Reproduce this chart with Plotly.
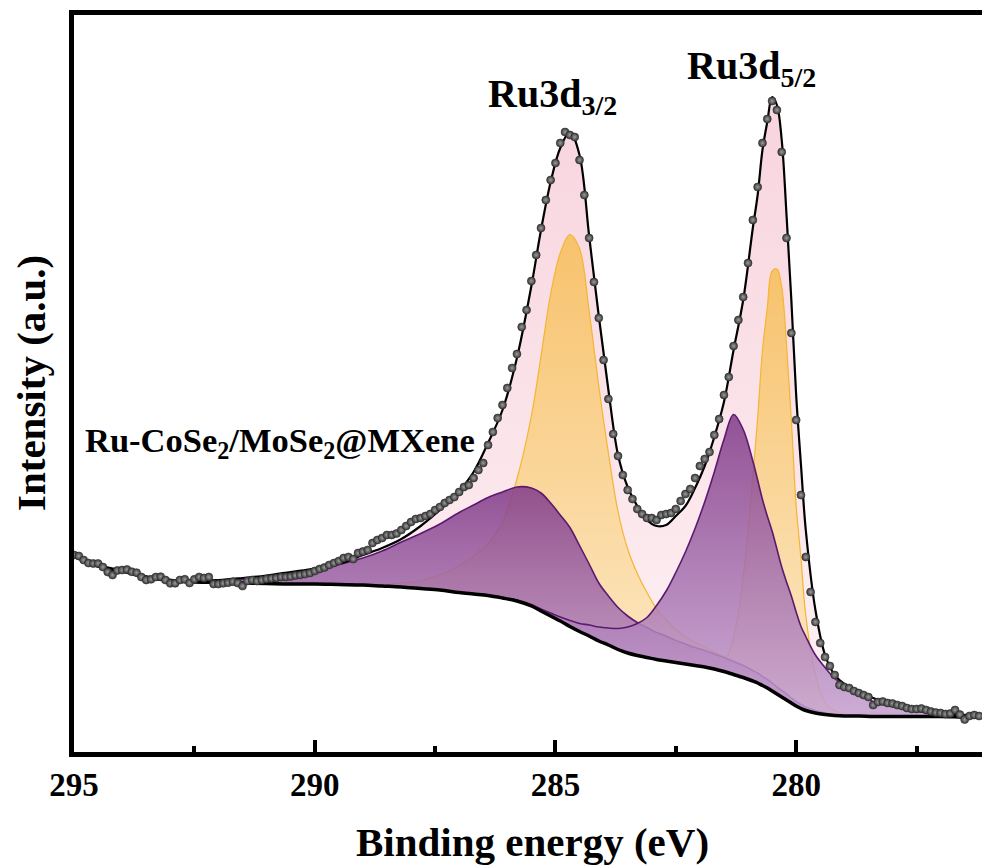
import numpy as np
import plotly.graph_objects as go

# ---- Fit grid: binding energy (eV) ----
E_fit = [295.0, 294.5, 294.0, 293.5, 293.0, 292.5, 292.0, 291.5, 291.0, 290.5,
         290.0, 289.5, 289.0, 288.6, 288.2, 287.8, 287.4, 287.0, 286.7, 286.4,
         286.1, 285.8, 285.5, 285.3, 285.1, 284.9, 284.7, 284.5, 284.3, 284.1,
         283.9, 283.7, 283.5, 283.3, 283.1, 282.9, 282.7, 282.5, 282.3, 282.1,
         281.9, 281.7, 281.5, 281.3, 281.1, 280.9, 280.8, 280.7, 280.6, 280.5,
         280.4, 280.3, 280.2, 280.1, 280.0, 279.9, 279.8, 279.6, 279.4, 279.2,
         279.0, 278.7, 278.4, 278.0, 277.5, 277.0, 276.5, 276.2]

# Shirley-type background (a.u.)
background = [196, 186, 181, 175, 171.5, 170, 169.5, 169, 168.5, 168,
              168, 167.5, 167, 166, 165, 163.5, 162, 159.5, 158, 156.5,
              154, 151, 146, 141, 136, 131, 125.5, 120.5, 116, 111,
              107, 102.5, 99, 96.5, 94.5, 92.5, 91, 89.5, 88, 86.5,
              85, 83, 80.5, 77.5, 74.5, 71, 69, 66.5, 64, 61,
              58, 55, 52, 49, 46, 43.5, 41.5, 39, 37.5, 36.5,
              36, 36, 35.5, 35.5, 35.5, 35.5, 35, 35]

# Total fit envelope (a.u.)
envelope = [196, 186, 181, 175, 172, 171.5, 172, 174, 176.5, 180,
            183.5, 188, 197, 204, 213, 226, 242, 261, 280, 309,
            342, 394, 466, 522, 570, 604, 620, 597, 516, 436,
            362, 297, 265, 246, 232, 226, 227, 236, 246, 264,
            286, 315, 350, 402, 452, 524, 557, 602, 630, 655,
            647, 612, 537, 452, 357, 287, 222, 142, 97, 77,
            68, 60, 54, 48, 41, 38.5, 37, 36]

# Component heights above the background (a.u.)
ru_3d32_main = [0, 0, 0, 0, 0, 0, 0, 0, 0, 0,
                0, 0, 0.5, 1, 4, 8, 15, 27, 38, 52,
                76, 122, 190, 255, 322, 368, 392, 383, 325, 255,
                192, 138, 104, 82, 65, 51, 41, 33, 27, 23,
                20, 17, 15, 13, 12, 10, 9, 8, 7, 6,
                6, 5, 5, 4, 4, 3, 3, 2, 1, 1,
                0, 0, 0, 0, 0, 0, 0, 0]

ru_3d52_main = [0, 0, 0, 0, 0, 0, 0, 0, 0, 0,
                0, 0, 0, 0, 0, 0, 0, 0, 0, 0,
                0, 0, 0, 0, 0, 0, 0, 0, 0, 0,
                0, 0, 0, 0, 0, 0, 0, 0, 0, 0,
                1, 3, 9, 38, 100, 205, 265, 335, 380, 420,
                425, 410, 355, 283, 200, 150, 95, 38, 12, 5,
                2, 1, 0, 0, 0, 0, 0, 0]

ru_3d32_sat = [0, 0, 0, 0.5, 1, 1.5, 2.5, 4, 6, 9,
               13, 20, 27, 35, 45, 55, 66, 80, 89, 98,
               106, 114, 118, 118, 113, 106, 99, 86, 72, 58,
               49, 42, 37, 33, 30, 27, 25, 22, 20, 18,
               16.5, 15, 14, 13, 12, 10.5, 10, 9, 8.5, 8,
               7, 6.5, 6, 5, 4.5, 4, 3.5, 2.5, 1.5, 1,
               0.5, 0, 0, 0, 0, 0, 0, 0]

ru_3d52_sat = [0, 0, 0, 0, 0, 0, 0, 0, 0, 0,
               0, 0, 0, 0, 0, 0, 0, 0, 0, 0.5,
               0.5, 1, 1.5, 2, 3, 4, 6, 8, 11, 14,
               17, 21, 26, 32, 40, 54, 70, 90, 112, 137,
               165, 197, 232, 260, 248, 220, 203, 186, 172, 160,
               145, 130, 118, 107, 94, 82, 74, 58, 47, 37,
               30, 21, 15, 10, 6, 4, 2.5, 2]

# ---- Measured spectrum, 0.1 eV steps from 295.0 to 276.2 eV ----
E_data = np.round(np.arange(295.0, 276.15, -0.1), 1)
counts = [197, 196, 192, 189, 188.5, 188.5, 185, 180, 177, 181.5,
          182, 182.5, 180.3, 179.3, 175, 172, 172.7, 175, 175.3, 172,
          168.7, 168.7, 172, 172.7, 169, 172.7, 175, 174, 175, 168,
          168, 168.7, 169.3, 170.3, 169, 166, 171, 172, 171, 172,
          173, 173.5, 174, 175, 175, 175.5, 176.5, 177, 178, 179,
          181, 183, 184.5, 187, 189, 191, 194, 195, 193, 199,
          200.5, 202, 209, 212, 214, 217, 217, 218.5, 222, 226,
          230, 233, 234, 236, 238, 242, 245, 249, 252, 255,
          260, 265, 267, 274, 282, 289, 307, 320, 334, 347,
          364, 384, 398, 425, 442, 471, 497, 524, 552, 572,
          589, 609, 620, 617, 615, 592, 557, 514, 470, 434,
          392, 353, 318, 296, 277, 262, 253, 243, 238, 234,
          234, 232, 237, 238, 239, 243, 251, 258, 263, 274,
          286, 293, 300, 317, 333, 357, 375, 406, 432, 455,
          489, 532, 565, 609, 633, 651, 642, 600, 514, 419,
          332, 257, 195, 160, 130, 109, 95, 86, 77, 67,
          65, 64, 61, 59, 57, 55, 47, 50, 50.5, 49,
          48.5, 47, 46, 44, 43, 43, 43.5, 42, 40.5, 39.5,
          39, 38, 38.5, 42, 37.5, 32.5, 36, 37, 36]

bg = np.array(background, dtype=float)
SERIF = "Liberation Serif"
SPLINE = dict(shape="spline", smoothing=1.0)

fig = go.Figure()


def band(top, colorscale, edge_color, edge_width):
    """Fill the area between the background and `top` with a vertical gradient."""
    fig.add_trace(go.Scatter(x=E_fit, y=bg, mode="lines",
                             line=dict(width=0, color="rgba(0,0,0,0)", **SPLINE),
                             hoverinfo="skip", showlegend=False))
    fig.add_trace(go.Scatter(x=E_fit, y=top, mode="lines",
                             line=dict(width=edge_width, color=edge_color, **SPLINE),
                             fill="tonexty",
                             fillgradient=dict(type="vertical", colorscale=colorscale),
                             hoverinfo="skip", showlegend=False))


PINK = [[0, "rgba(253,241,244,1)"], [1, "rgba(248,212,222,1)"]]
ORANGE = [[0, "rgba(253,233,196,0.92)"], [1, "rgba(247,192,98,0.92)"]]
PURPLE = [[0, "rgba(196,160,208,0.85)"], [1, "rgba(132,62,138,0.88)"]]

band(np.array(envelope, dtype=float), PINK, "rgba(0,0,0,0)", 0)
band(bg + np.array(ru_3d32_main), ORANGE, "#f5b531", 1.2)
band(bg + np.array(ru_3d52_main), ORANGE, "#f5b531", 1.2)
band(bg + np.array(ru_3d32_sat), PURPLE, "#5c1a6e", 1.6)
band(bg + np.array(ru_3d52_sat), PURPLE, "#5c1a6e", 1.6)

# envelope and background outlines
fig.add_trace(go.Scatter(x=E_fit, y=envelope, mode="lines",
                         line=dict(width=2.2, color="black", **SPLINE),
                         hoverinfo="skip", showlegend=False))
fig.add_trace(go.Scatter(x=E_fit, y=background, mode="lines",
                         line=dict(width=3.5, color="black", **SPLINE),
                         hoverinfo="skip", showlegend=False))

# measured points
fig.add_trace(go.Scatter(x=E_data, y=counts, mode="markers",
                         marker=dict(size=8, color="#383838",
                                     gradient=dict(type="radial", color="#9c9c9c"),
                                     line=dict(width=0.6, color="#2e2e2e")),
                         hoverinfo="skip", showlegend=False))

# ---- axes ----
x_ticks = [295, 290, 285, 280]
x_minor = [292.5, 287.5, 282.5, 277.5]

fig.update_xaxes(range=[295, 276.14], autorange=False,
                 showline=True, linewidth=4.5, linecolor="black", mirror=True,
                 ticks="inside", ticklen=12, tickwidth=3.5, tickcolor="black",
                 tickvals=x_ticks, ticktext=[str(v) for v in x_ticks],
                 tickfont=dict(family=SERIF, size=33, color="black", weight="bold"),
                 ticklabelstandoff=0,
                 minor=dict(ticks="inside", ticklen=6, tickwidth=3.5,
                            tickcolor="black", tickvals=x_minor),
                 showgrid=False, zeroline=False)
fig.update_yaxes(range=[0, 737], autorange=False,
                 showline=True, linewidth=4.5, linecolor="black", mirror=False,
                 ticks="", showticklabels=False, showgrid=False, zeroline=False)

# ---- text ----
def px_x(px):
    return (px - 74) / 908.0


def px_y(py):
    return (752 - py) / 737.0


annotations = [
    dict(text="<b>Binding energy (eV)</b>", x=px_x(532), y=px_y(842),
         xanchor="center", yanchor="middle",
         font=dict(family=SERIF, size=41, color="black")),
    dict(text="<b>Intensity (a.u.)</b>", x=px_x(31), y=px_y(383), textangle=-90,
         xanchor="center", yanchor="middle",
         font=dict(family=SERIF, size=41, color="black")),
    dict(text="<b>Ru3d<sub>3/2</sub></b>", x=px_x(486), y=px_y(96),
         xanchor="left", yanchor="middle",
         font=dict(family=SERIF, size=40, color="black")),
    dict(text="<b>Ru3d<sub>5/2</sub></b>", x=px_x(685), y=px_y(68),
         xanchor="left", yanchor="middle",
         font=dict(family=SERIF, size=40, color="black")),
    dict(text="<b>Ru-CoSe<sub>2</sub>/MoSe<sub>2</sub>@MXene</b>", x=px_x(83), y=px_y(442),
         xanchor="left", yanchor="middle",
         font=dict(family=SERIF, size=34.5, color="black")),
]
for a in annotations:
    a.update(xref="paper", yref="paper", showarrow=False)

fig.update_layout(width=982, height=868,
                  margin=dict(l=74, r=0, t=15, b=116),
                  plot_bgcolor="white", paper_bgcolor="white",
                  showlegend=False, annotations=annotations)

fig.write_html("out.html")
